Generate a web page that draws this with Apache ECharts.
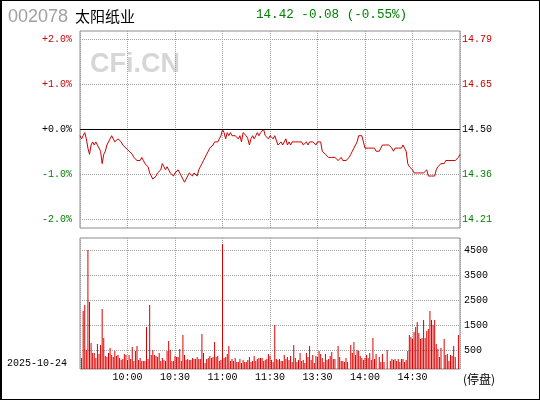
<!DOCTYPE html>
<html><head><meta charset="utf-8">
<script src="https://cdn.jsdelivr.net/npm/echarts@6/dist/echarts.min.js"></script>
<style>
html,body{margin:0;padding:0;background:#fff;}
#wrap{position:relative;width:540px;height:400px;}
#chart{position:absolute;left:0;top:0;width:540px;height:400px;}
#frame{position:absolute;left:0;top:0;width:540px;height:400px;box-sizing:border-box;border:1px solid #000;border-left-width:2px;pointer-events:none;}
</style></head><body>
<div id="wrap"><div id="chart"></div><div id="frame"></div></div>
<script>
const stockCode = '002078';
const stockName = '太阳纸业';
const quoteText = '14.42 -0.08 (-0.55%)';
const tradeDate = '2025-10-24';
const haltText = '(停盘)';
const watermark = 'CFi.CN';
const prevClose = 14.50;

// minute categories 09:30..11:30, 13:01..15:00
const times = [];
function fmt(m){ const h = Math.floor(m/60), mm = m%60; return (h<10?'0':'')+h+':'+(mm<10?'0':'')+mm; }
for (let m = 570; m <= 690; m++) times.push(fmt(m));
for (let m = 781; m <= 900; m++) times.push(fmt(m));
const shownTimes = ['10:00','10:30','11:00','11:30','13:30','14:00','14:30'];

const prices = [
14.48,14.47,14.48,14.49,14.47,14.44,14.42,14.45,14.46,14.45,
14.46,14.45,14.45,14.43,14.39,14.42,14.43,14.45,14.46,14.47,
14.48,14.47,14.46,14.46,14.47,14.47,14.46,14.45,14.45,14.44,
14.44,14.43,14.43,14.42,14.41,14.41,14.40,14.40,14.40,14.41,
14.40,14.39,14.39,14.38,14.36,14.35,14.34,14.34,14.35,14.36,
14.36,14.37,14.39,14.38,14.37,14.38,14.37,14.36,14.36,14.35,
14.36,14.36,14.37,14.36,14.35,14.34,14.33,14.34,14.35,14.36,
14.36,14.35,14.36,14.36,14.35,14.37,14.38,14.39,14.40,14.41,
14.42,14.43,14.44,14.44,14.45,14.46,14.46,14.46,14.47,14.48,
14.50,14.49,14.47,14.49,14.48,14.49,14.48,14.48,14.48,14.48,
14.47,14.48,14.46,14.49,14.49,14.48,14.47,14.45,14.47,14.48,
14.47,14.48,14.49,14.48,14.49,14.49,14.50,14.48,14.48,14.47,
14.48,
14.48,14.47,14.48,14.48,14.45,14.45,14.46,14.45,14.46,14.47,
14.45,14.46,14.45,14.46,14.46,14.46,14.46,14.46,14.46,14.46,
14.45,14.45,14.46,14.45,14.46,14.46,14.46,14.46,14.45,14.46,
14.46,14.46,14.43,14.43,14.42,14.42,14.41,14.41,14.41,14.41,
14.41,14.41,14.40,14.40,14.41,14.40,14.40,14.40,14.40,14.41,
14.42,14.43,14.44,14.45,14.46,14.48,14.48,14.48,14.46,14.44,
14.44,14.44,14.44,14.44,14.44,14.44,14.43,14.43,14.43,14.44,
14.45,14.45,14.45,14.45,14.45,14.45,14.44,14.43,14.44,14.44,
14.44,14.44,14.44,14.45,14.45,14.43,14.39,14.38,14.38,14.37,
14.36,14.36,14.36,14.36,14.36,14.36,14.36,14.36,14.37,14.35,
14.35,14.35,14.35,14.35,14.37,14.38,14.38,14.39,14.39,14.39,
14.40,14.40,14.40,14.40,14.40,14.40,14.40,14.40,14.41,14.42
];

const volumes = [
null,
440,2320,2560,760,4760,2680,1040,640,640,440,
1000,600,960,2400,1240,520,480,640,840,560,
480,720,520,560,440,360,400,600,560,360,
560,400,880,320,720,920,360,440,320,320,
320,1680,400,2560,560,760,560,520,480,640,
320,440,360,320,720,1120,760,320,320,520,
480,480,800,320,1360,560,360,400,360,360,
440,400,400,480,400,400,1400,640,240,400,
440,520,440,480,1080,480,520,320,360,5000,
440,480,600,920,320,400,320,440,280,280,
400,240,360,280,280,360,480,280,320,520,
320,400,440,440,440,320,360,400,600,520,
360,280,1760,400,360,400,320,320,560,400,
480,360,520,280,960,440,280,360,640,320,
360,240,640,480,920,360,560,240,520,480,
720,600,440,280,600,360,400,520,680,400,
400,0,920,480,320,320,280,440,280,0,
960,640,1080,560,760,720,520,440,360,440,
560,440,640,360,1240,400,600,0,480,280,
600,280,0,760,0,320,400,360,400,320,
400,280,400,400,280,360,720,1360,1280,1200,
1480,1680,1880,1440,1200,1240,1960,1240,1520,1600,
2320,1960,1760,1960,1000,800,480,840,0,1200,
560,600,320,560,520,920,480,0,1360,0
];

const pctTicks = [-2, -1, 0, 1, 2];
const pctLabels = ['-2.0%', '-1.0%', '+0.0%', '+1.0%', '+2.0%'];
const priceLabels = ['14.21', '14.36', '14.50', '14.65', '14.79'];
const volTicks = [760, 1760, 2760, 3760, 4760];
const volLabels = ['500', '1500', '2500', '3500', '4500'];

const pct = prices.map(p => (p / prevClose - 1) * 100);

const RED = '#cc0000', GREEN = '#008000';
const gridColor = '#a0a0a0';
const monoFont = 'Liberation Mono';
function signColor(v){ return v > 0 ? RED : (v < 0 ? GREEN : '#000'); }

const chart = echarts.init(document.getElementById('chart'), null, {renderer:'canvas'});
const dotted = {show:true, lineStyle:{color:gridColor, type:'dotted', width:1}};

chart.setOption({
  animation: false,
  backgroundColor: '#fff',
  grid: [
    {left:80, right:80, top:31, height:197, show:true, borderColor:'#8c8c8c', borderWidth:1, backgroundColor:'transparent'},
    {left:80, right:80, top:238, height:131, show:true, borderColor:'#8c8c8c', borderWidth:1, backgroundColor:'transparent'}
  ],
  xAxis: [
    {type:'category', gridIndex:0, data:times, boundaryGap:false,
     axisLine:{show:false}, axisTick:{show:false}, axisLabel:{show:false},
     splitLine:Object.assign({interval:29}, dotted)},
    {type:'category', gridIndex:1, data:times, boundaryGap:false,
     axisLine:{show:false}, axisTick:{show:false},
     axisLabel:{show:true, interval:(i, v) => shownTimes.indexOf(v) >= 0, color:'#000', fontFamily:monoFont, fontSize:10, margin:3},
     splitLine:Object.assign({interval:29}, dotted)}
  ],
  yAxis: [
    {type:'value', gridIndex:0, position:'left', min:-2.19, max:2.19,
     axisLine:{show:false}, axisTick:{show:false, customValues:pctTicks},
     axisLabel:{customValues:pctTicks, formatter:v => pctLabels[pctTicks.indexOf(Math.round(v))], color:v => signColor(v), fontFamily:monoFont, fontSize:10, margin:8},
     splitLine:dotted},
    {type:'value', gridIndex:0, position:'right', min:-2.19, max:2.19,
     axisLine:{show:false}, axisTick:{show:false, customValues:pctTicks},
     axisLabel:{customValues:pctTicks, formatter:v => priceLabels[pctTicks.indexOf(Math.round(v))], color:v => signColor(v), fontFamily:monoFont, fontSize:10, margin:2},
     splitLine:{show:false}},
    {type:'value', gridIndex:1, position:'right', min:0, max:5240,
     axisLine:{show:false}, axisTick:{show:false, customValues:volTicks},
     axisLabel:{customValues:volTicks, formatter:v => volLabels[volTicks.indexOf(Math.round(v))], color:'#000', fontFamily:monoFont, fontSize:10, margin:4},
     splitLine:dotted}
  ],
  series: [
    {type:'line', xAxisIndex:0, yAxisIndex:0, data:pct, showSymbol:false, symbol:'none',
     lineStyle:{color:RED, width:1}, itemStyle:{color:RED}, z:3,
     markLine:{silent:true, symbol:['none','none'], label:{show:false},
       lineStyle:{color:'#000', type:'solid', width:1}, data:[{yAxis:0}], animation:false}},
    {type:'bar', xAxisIndex:1, yAxisIndex:2, data:volumes, barWidth:1, itemStyle:{color:'#dd0000'}}
  ],
  graphic: [
    {type:'text', x:8, y:17, z:10, style:{text:stockCode, fill:'#a0a0a0', font:'18px "Liberation Sans"', verticalAlign:'middle'}},
    {type:'text', x:75, y:16, z:10, style:{text:stockName, fill:'#000', font:'15px "Noto Sans CJK SC"', verticalAlign:'middle'}},
    {type:'text', x:256, y:15, z:10, style:{text:quoteText, fill:GREEN, font:'12.6px "Liberation Mono"', verticalAlign:'middle'}},
    {type:'text', x:90, y:65, z:-1, style:{text:watermark, fill:'#d6d6d6', font:'bold 27px "Liberation Sans"', verticalAlign:'middle'}},
    {type:'text', x:7, y:363, z:10, style:{text:tradeDate, fill:'#000', font:'10px "Liberation Mono"', verticalAlign:'middle'}},
    {type:'text', x:463, y:379, z:10, style:{text:haltText, fill:'#000', font:'12px "Noto Sans CJK SC"', verticalAlign:'middle'}}
  ]
});
</script>
</body></html>
